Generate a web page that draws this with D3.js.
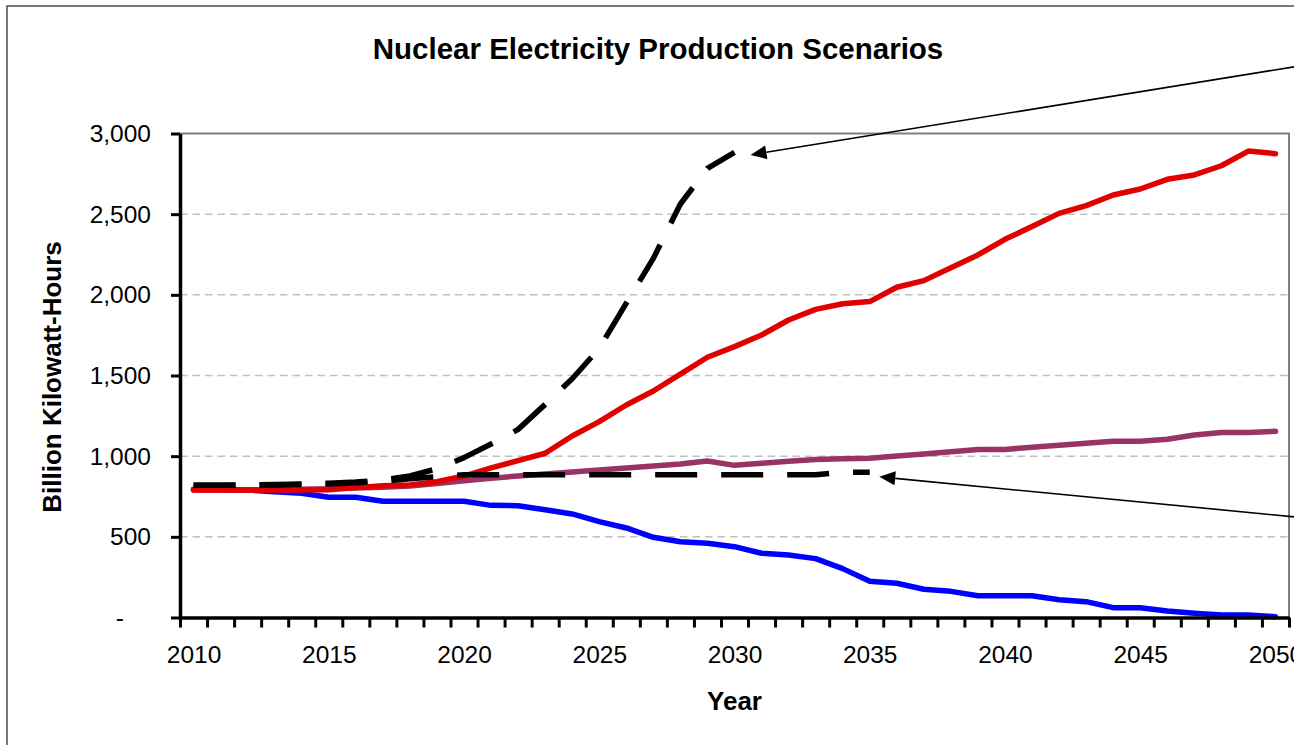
<!DOCTYPE html>
<html>
<head>
<meta charset="utf-8">
<script src="https://cdn.jsdelivr.net/npm/d3@7"></script>
<style>
  html, body { margin: 0; padding: 0; background: #fff; overflow: hidden; }
  svg { display: block; font-family: "Liberation Sans", Arial, sans-serif; }
</style>
</head>
<body>
<svg id="chart" width="1294" height="745"></svg>
<script>
// Years on the category axis
const years = d3.range(2010, 2051);
const yearLabels = [2010, 2015, 2020, 2025, 2030, 2035, 2040, 2045, 2050];
const valueTicks = [0, 500, 1000, 1500, 2000, 2500, 3000];

// Billion kWh per year, by scenario
const phaseOut = [795, 795, 790, 780, 770, 745, 745, 720, 720, 720, 720, 695, 693, 668, 642, 594, 555, 497, 470, 460,
  439, 398, 387, 365, 303, 224, 212, 175, 162, 135, 135, 135, 110, 98, 61, 61, 40, 27, 15, 15, 5];
const moderate = [790, 790, 790, 792, 795, 798, 802, 808, 815, 830, 848, 863, 877, 889, 902, 914, 927, 939, 951, 970,
  943, 956, 968, 980, 984, 987, 1001, 1013, 1028, 1042, 1042, 1055, 1067, 1080, 1092, 1092, 1105, 1131, 1146, 1146, 1154];
const expansion = [790, 790, 790, 790, 790, 792, 805, 817, 822, 842, 877, 927, 972, 1018, 1125, 1214, 1317, 1404, 1509, 1613,
  1679, 1751, 1844, 1910, 1945, 1958, 2047, 2088, 2168, 2247, 2344, 2423, 2505, 2553, 2619, 2656, 2716, 2743, 2800, 2891, 2875];
// Dashed scenarios cover shorter horizons
const rapidBuild = [820, 820, 822, 825, 828, 832, 840, 852, 878, 922, 991, 1075, 1166, 1321, 1480, 1668, 1949, 2226, 2563, 2784, 2883];
const flatOutput = [820, 820, 820, 822, 825, 828, 835, 845, 860, 872, 885, 885, 885, 885, 885, 885, 885, 885, 885, 885,
  885, 885, 885, 885, 900, 900];

const svg = d3.select("#chart");
const FONT = '"Liberation Sans", Arial, sans-serif';

const plotLeft = 180, plotRight = 1289, plotTop = 133.5, plotBottom = 617.5;
const x = d3.scaleLinear().domain([2009.5, 2050.5]).range([plotLeft, plotRight]);
const y = d3.scaleLinear().domain([0, 3000]).range([plotBottom, plotTop]);

// Outer chart frame (continues past the visible page)
svg.append("rect")
  .attr("x", 7).attr("y", 6).attr("width", 1500).attr("height", 1000)
  .attr("fill", "none").attr("stroke", "#4d4d4d").attr("stroke-width", 1.5);

// Title
svg.append("text")
  .attr("x", 658).attr("y", 59)
  .attr("text-anchor", "middle")
  .attr("font-size", 29.5).attr("font-weight", "bold")
  .text("Nuclear Electricity Production Scenarios");

// Horizontal gridlines
svg.append("g").selectAll("line")
  .data(valueTicks.filter(v => v > 0 && v < 3000))
  .join("line")
  .attr("x1", plotLeft).attr("x2", plotRight)
  .attr("y1", d => y(d)).attr("y2", d => y(d))
  .attr("stroke", "#c0c0c0").attr("stroke-width", 1.5)
  .attr("stroke-dasharray", "7.5,5");

// Plot area border (top and right)
svg.append("path")
  .attr("d", `M${plotLeft},${y(3000)}H${plotRight}V${plotBottom}`)
  .attr("fill", "none").attr("stroke", "#808080").attr("stroke-width", 2);

// Series
const line = d3.line().x((d, i) => x(years[i])).y(d => y(d));
const solid = [
  { values: phaseOut, color: "#0000ff" },
  { values: moderate, color: "#993366" },
  { values: expansion, color: "#e00000" }
];
svg.append("g").selectAll("path")
  .data(solid).join("path")
  .attr("d", d => line(d.values))
  .attr("fill", "none").attr("stroke", d => d.color)
  .attr("stroke-width", 5.5).attr("stroke-linejoin", "round").attr("stroke-linecap", "round");

svg.append("g").selectAll("path")
  .data([flatOutput, rapidBuild]).join("path")
  .attr("d", d => line(d))
  .attr("fill", "none").attr("stroke", "#000")
  .attr("stroke-width", 5.5).attr("stroke-dasharray", "42,24")
  .attr("stroke-linejoin", "round").attr("stroke-linecap", "butt");

// Y axis
const yAxis = d3.axisLeft(y).tickValues(valueTicks).tickSize(9).tickSizeOuter(0).tickPadding(20)
  .tickFormat(d => d === 0 ? "-" : d3.format(",")(d));
const gy = svg.append("g").attr("transform", `translate(${plotLeft},0)`).call(yAxis);
gy.select(".domain").attr("stroke", "#000").attr("stroke-width", 3.5);
gy.selectAll(".tick line").attr("stroke", "#000").attr("stroke-width", 3);
gy.selectAll(".tick text")
  .attr("font-family", FONT).attr("font-size", 24.5).attr("fill", "#000")
  .attr("dx", d => d === 0 ? -27 : 0);

// X axis: tick marks between categories, labels every five years
const boundaries = d3.range(2009.5, 2051, 1);
const xTicks = d3.axisBottom(x).tickValues(boundaries).tickSize(10).tickSizeOuter(0).tickFormat("");
const gx = svg.append("g").attr("transform", `translate(0,${plotBottom})`).call(xTicks);
gx.select(".domain").attr("stroke", "#000").attr("stroke-width", 3.5);
gx.selectAll(".tick line").attr("stroke", "#000").attr("stroke-width", 3);

const xLabels = d3.axisBottom(x).tickValues(yearLabels).tickSize(0).tickPadding(28).tickFormat(d3.format("d"));
const gxl = svg.append("g").attr("transform", `translate(0,${plotBottom})`).call(xLabels);
gxl.select(".domain").remove();
gxl.selectAll(".tick text").attr("font-family", FONT).attr("font-size", 24.5).attr("fill", "#000");

// Axis titles
svg.append("text")
  .attr("x", x(2030)).attr("y", 710)
  .attr("text-anchor", "middle").attr("font-size", 26).attr("font-weight", "bold")
  .text("Year");
svg.append("text")
  .attr("transform", "translate(61,377) rotate(-90)")
  .attr("text-anchor", "middle").attr("font-size", 26).attr("font-weight", "bold")
  .text("Billion Kilowatt-Hours");

// Callout arrows pointing at the ends of the dashed scenarios
function arrow(tipX, tipY, slope) {
  const farX = 1420, farY = tipY + slope * (farX - tipX);
  const len = Math.hypot(farX - tipX, farY - tipY);
  const ux = (farX - tipX) / len, uy = (farY - tipY) / len;
  const L = 16, W = 7;
  const bx = tipX + ux * L, by = tipY + uy * L;
  const g = svg.append("g");
  g.append("line").attr("x1", bx).attr("y1", by).attr("x2", farX).attr("y2", farY)
    .attr("stroke", "#000").attr("stroke-width", 1.6);
  g.append("path")
    .attr("d", `M${tipX},${tipY}L${bx - uy * W},${by + ux * W}L${bx + uy * W},${by - ux * W}Z`)
    .attr("fill", "#000");
}
arrow(x(2030) + 16, y(rapidBuild[rapidBuild.length - 1]) + 2.5, -0.162);
arrow(x(2035) + 9.5, y(flatOutput[flatOutput.length - 1]) + 4.5, 0.0965);
</script>
</body>
</html>
